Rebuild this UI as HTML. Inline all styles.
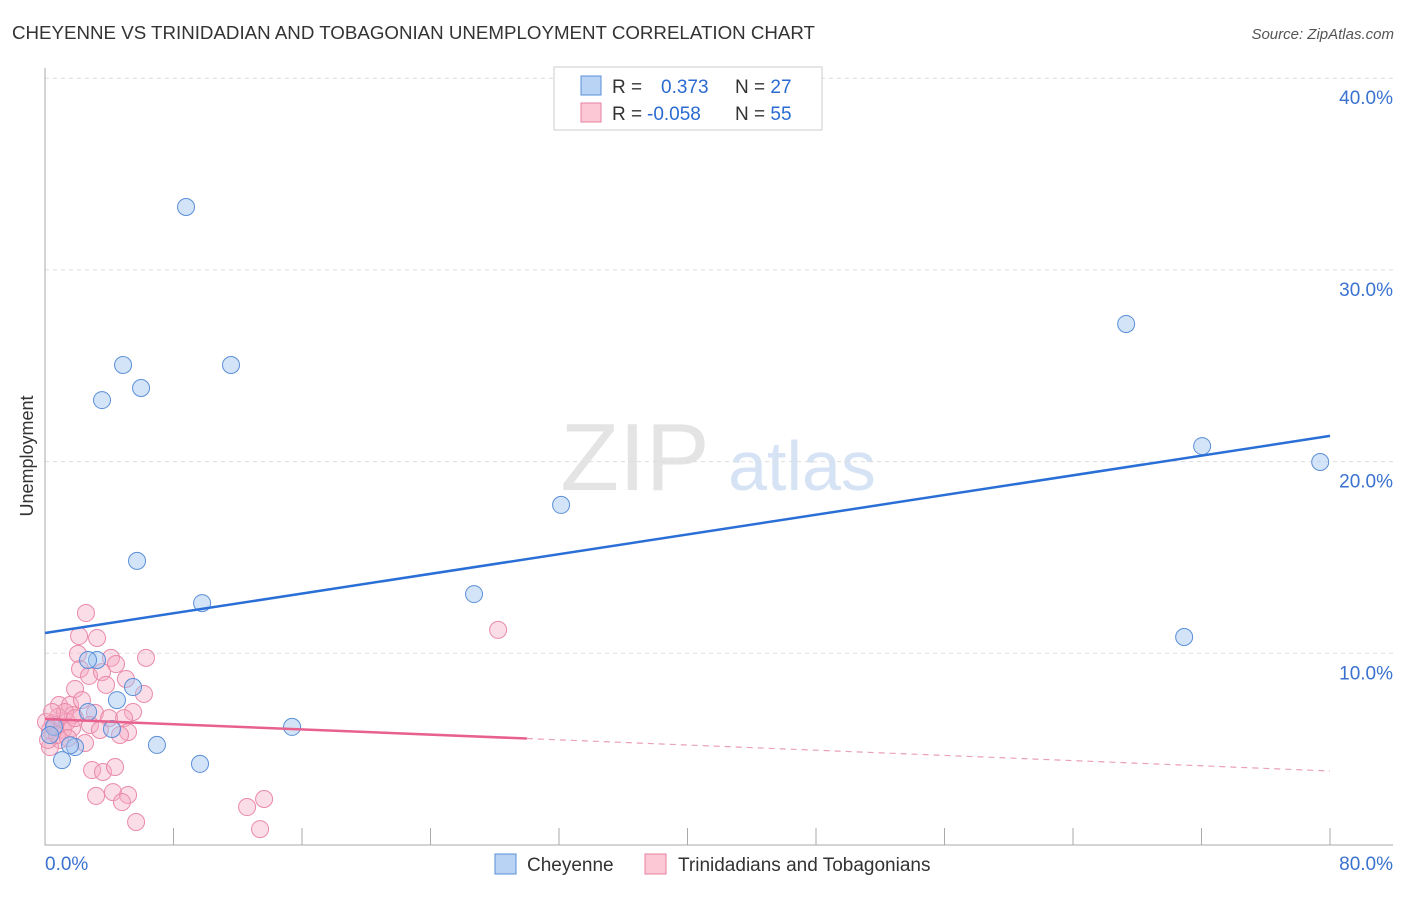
<!DOCTYPE html>
<html><head><meta charset="utf-8"><style>
body{margin:0;background:#fff;font-family:"Liberation Sans",sans-serif}
svg text{font-family:"Liberation Sans",sans-serif}
</style></head><body>
<svg id="c" width="1406" height="892">
<text x="12" y="39" font-size="18" fill="#333" textLength="803" lengthAdjust="spacingAndGlyphs">CHEYENNE VS TRINIDADIAN AND TOBAGONIAN UNEMPLOYMENT CORRELATION CHART</text>
<text x="1394" y="39" font-size="15" fill="#555" font-style="italic" text-anchor="end">Source: ZipAtlas.com</text>
<text x="33" y="456" font-size="18" fill="#333" text-anchor="middle" transform="rotate(-90 33 456)">Unemployment</text>
<g>
<text x="635" y="490" font-size="96" fill="#e4e4e4" text-anchor="middle" font-family="Liberation Serif">ZIP</text>
<text x="802" y="490" font-size="70" fill="#d6e3f5" text-anchor="middle">atlas</text>
</g>
<g id="grid"></g><g id="axes"></g><g id="pts"></g><g id="lines"></g>
<g>
<rect x="554" y="67" width="268" height="63" fill="#fff" stroke="#ccc"/>
<rect x="581" y="76" width="20" height="19" fill="#b9d3f5" stroke="#5a8fd8"/>
<rect x="581" y="103" width="20" height="19" fill="#fcc8d6" stroke="#e87fa0"/>
<text x="612" y="93" font-size="19" fill="#333">R =</text><text x="661" y="93" font-size="19" fill="#2a6bd1">0.373</text>
<text x="735" y="93" font-size="19" fill="#333">N = <tspan fill="#2a6bd1">27</tspan></text>
<text x="612" y="120" font-size="19" fill="#333">R =</text><text x="647" y="120" font-size="19" fill="#2a6bd1">-0.058</text>
<text x="735" y="120" font-size="19" fill="#333">N = <tspan fill="#2a6bd1">55</tspan></text>
</g>
<g>
<rect x="495" y="854" width="21" height="20" fill="#b9d3f5" stroke="#5a8fd8"/>
<text x="527" y="871" font-size="19" fill="#333">Cheyenne</text>
<rect x="645" y="854" width="21" height="20" fill="#fcc8d6" stroke="#e87fa0"/>
<text x="678" y="871" font-size="19" fill="#333">Trinidadians and Tobagonians</text>
</g>
</svg>
<script>
const yTicks=[10,20,30,40];
const yTickLabels=["10.0%","20.0%","30.0%","40.0%"];
const xTicks=[0,8,16,24,32,40,48,56,64,72,80];
const cheyenneX=[8.78,4.86,11.58,3.55,5.98,32.13,5.73,9.78,26.71,3.24,4.48,5.48,4.17,6.97,9.65,1.06,1.87,15.38,67.31,72.04,79.39,70.92,0.56,0.31,2.68,2.68,1.56];
const cheyenneY=[33.28,25.04,25.04,23.21,23.84,17.74,14.82,12.62,13.09,9.65,7.56,8.24,6.05,5.22,4.23,4.43,5.11,6.16,27.18,20.81,19.98,10.85,6.16,5.74,6.94,9.65,5.2];
const trinX=[2.55,2.12,3.24,2.05,4.11,6.29,2.18,4.42,2.74,3.55,5.04,3.80,1.87,6.16,0.87,1.56,3.11,5.48,3.99,4.92,0.50,0.31,1.12,2.80,5.17,4.67,0.93,2.49,2.93,3.61,4.36,3.18,4.23,5.17,4.79,5.67,0.31,1.74,0.81,1.37,0.62,28.21,12.58,13.64,13.39,0.19,1.25,0.75,1.68,0.06,2.30,3.42,1.87,0.44,1.43];
const trinY=[12.10,10.90,10.80,9.97,9.76,9.76,9.18,9.44,8.82,9.02,8.66,8.35,8.14,7.88,7.30,7.30,6.89,6.94,6.62,6.62,6.36,6.00,6.00,6.26,5.89,5.74,5.48,5.32,3.91,3.81,4.07,2.56,2.76,2.61,2.24,1.20,5.11,6.78,6.68,6.42,6.26,11.22,1.98,2.40,0.83,5.48,6.94,5.74,6.10,6.42,7.56,6.00,6.62,6.94,5.58];
const blueTrend=[11.06,21.34];
const pinkTrend=[6.57,3.86];
const pinkSolidEnd=30;
const X=v=>45+v*16.0625, Y=v=>845-v*19.17;
const NS="http://www.w3.org/2000/svg";
function mk(p,t,a){const e=document.createElementNS(NS,t);for(const k in a)e.setAttribute(k,a[k]);document.getElementById(p).appendChild(e);return e;}
yTicks.forEach((t,i)=>{
 const l=mk('grid','line',{x1:45,x2:1393,y1:Y(t),y2:Y(t),stroke:'#ddd','stroke-dasharray':'4,4'});
 
 
 const tx=mk('grid','text',{x:1393,y:Y(t)+26,'font-size':19,fill:'#3a72d0','text-anchor':'end'});
 tx.textContent=yTickLabels[i];
 
 
});
const ax=mk('axes','path',{d:`M45 68V${Y(0)}H1393`,stroke:'#aaa',fill:'none'});


xTicks.forEach(t=>{
 const l=mk('axes','line',{x1:X(t),x2:X(t),y1:828,y2:845,stroke:'#aaa'});
 
 
});
const x0=mk('axes','text',{x:45,y:870,'font-size':19,fill:'#3a72d0'});x0.textContent='0.0%';


const x1=mk('axes','text',{x:1393,y:870,'font-size':19,fill:'#3a72d0','text-anchor':'end'});x1.textContent='80.0%';


trinX.forEach((v,i)=>{
 const c=mk('pts','circle',{cx:X(v),cy:Y(trinY[i]),r:8.5,fill:'rgba(245,170,195,0.4)',stroke:'#ea8aa8','stroke-width':1});
 
 
});
cheyenneX.forEach((v,i)=>{
 const c=mk('pts','circle',{cx:X(v),cy:Y(cheyenneY[i]),r:8.5,fill:'rgba(160,195,240,0.45)',stroke:'#5a8fd8','stroke-width':1});
 
 
});
const bl=mk('lines','line',{x1:X(0),y1:Y(blueTrend[0]),x2:X(80),y2:Y(blueTrend[1]),stroke:'#2a6fd6','stroke-width':2.5});


const pm=pinkTrend[0]+(pinkTrend[1]-pinkTrend[0])*pinkSolidEnd/80;
const pl=mk('lines','line',{x1:X(0),y1:Y(pinkTrend[0]),x2:X(pinkSolidEnd),y2:Y(pm),stroke:'#e8608e','stroke-width':2.5});


const pd=mk('lines','line',{x1:X(pinkSolidEnd),y1:Y(pm),x2:X(80),y2:Y(pinkTrend[1]),stroke:'#eaa0b8','stroke-width':1.2,'stroke-dasharray':'6,5'});


</script>
</body></html>
